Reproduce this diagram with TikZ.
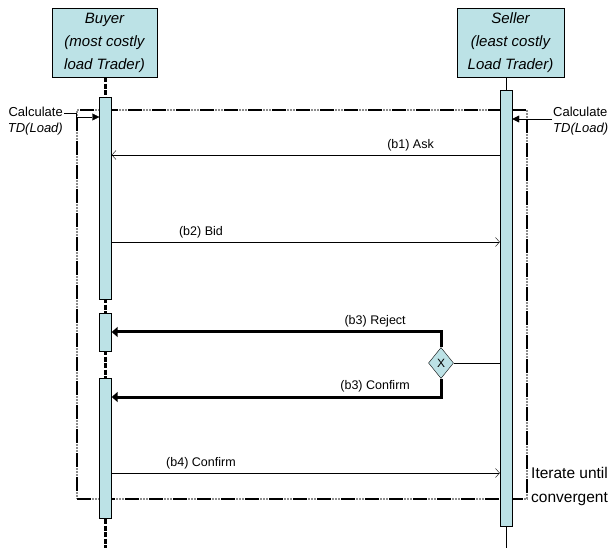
\documentclass[tikz,border=0pt]{standalone}
\usepackage{fontspec}
\setmainfont{Liberation Sans}
\usetikzlibrary{positioning, quotes, calc, arrows.meta, shapes.geometric, backgrounds}
\definecolor{lifeblue}{RGB}{188,226,230}
\tikzset{
every edge quotes/.style = {above, font = \fontsize{12.5}{15}\selectfont},
actor/.style = {rectangle, draw, thin, fill = lifeblue, minimum width = 105pt,
   minimum height = 69pt, inner sep = 1pt, align = center,
   font = \fontsize{15}{23}\selectfont\itshape},
activation/.style = {rectangle, draw, thin, fill = lifeblue, minimum width = 12pt,
   inner sep = 0pt},
buyerline/.style = {line width = 3pt, dash pattern = on 5pt off 1.5pt},
sellerline/.style = {thin},
message/.style = {-{Straight Barb[length = 4pt, width = 9pt]}, thin},
reply/.style = {-{Triangle[length = 6pt, width = 10pt]}, line width = 3pt},
decision/.style = {diamond, draw, thin, fill = lifeblue, minimum width = 25pt,
   minimum height = 31pt, inner sep = 0pt, font = \fontsize{12}{12}\selectfont},
loopframe/.style = {rectangle, line width = 2pt, draw = black!45, densely dotted,
   postaction = {draw = black, dash pattern = on 14pt off 10pt}},
calcnote/.style = {inner sep = 1pt, font = \fontsize{13}{16}\selectfont},
calcarrow/.style = {-{Triangle[length = 7pt, width = 7pt]}, thin},
msglabel/.style = {above, font = \fontsize{12.5}{15}\selectfont}
}

\begin{document}
\begin{tikzpicture}[x = 1pt, y = -1pt]
\useasboundingbox (0,0) rectangle (611,548);

%% The two traders
\node [actor] (buyer) at (104.5,42.5) {Buyer\\(most costly\\load Trader)};
\node [actor, minimum width = 107pt] (seller) at (510.5,42.5) {Seller\\(least costly\\Load Trader)};

\coordinate (bend) at (105.5,548);
\coordinate (send) at (506,548);

%% Iteration frame
\node [loopframe, minimum width = 450pt, minimum height = 389pt] (loop) at (302,304.5) {};

%% Lifelines
\draw [buyerline] (buyer.south -| bend) -- (bend);
\draw [sellerline] (seller.south -| send) -- (send);

%% Activations
\node [activation, minimum height = 202pt] (bbar1) at (105.5,198) {};
\node [activation, minimum height = 38pt] (bbar2) at (105.5,332) {};
\node [activation, minimum height = 140pt] (bbar3) at (105.5,448) {};
\node [activation, minimum height = 436pt] (sbar) at (506,308) {};

%% Local calculations
\node [calcnote, anchor = east, align = right] (calcb) at (64,121) {Calculate\\\textit{TD(Load)}};
\node [calcnote, anchor = west, align = left] (calcs) at (552,121) {Calculate\\\textit{TD(Load)}};

\draw [calcarrow] (calcb.east |- 0,113) -- (loop.west |- 0,113) |- (bbar1.west |- 0,117);
\draw [calcarrow] (calcs.west |- 0,119) -- (sbar.east |- 0,119);

%% Messages
\coordinate (ask) at (0,155);
\coordinate (bid) at (0,242);
\coordinate (conf) at (0,473);

\path [message] (sbar.west |- ask) edge ["(b1) Ask", pos = 0.23] (bbar1.east |- ask);
\path [message] (bbar1.east |- bid) edge ["(b2) Bid", pos = 0.23] (sbar.west |- bid);

%% Seller decides
\node [decision] (dia) at (441,363) {X};
\draw [thin] (sbar.west |- dia) -- (dia.east);

\draw [reply] (dia.north) |- node [msglabel, pos = 0.6] {(b3) Reject} (bbar2.east);
\draw [reply] (dia.south) |- node [msglabel, pos = 0.6] {(b3) Confirm} (bbar3.east |- 0,397);

\path [message] (bbar3.east |- conf) edge ["(b4) Confirm", pos = 0.23] (sbar.west |- conf);

%% Loop guard
\node [anchor = west, align = left, inner sep = 1pt, font = \fontsize{15.5}{24}\selectfont] (iter) at (530,486) {Iterate until\\convergent};

\end{tikzpicture}
\end{document}
